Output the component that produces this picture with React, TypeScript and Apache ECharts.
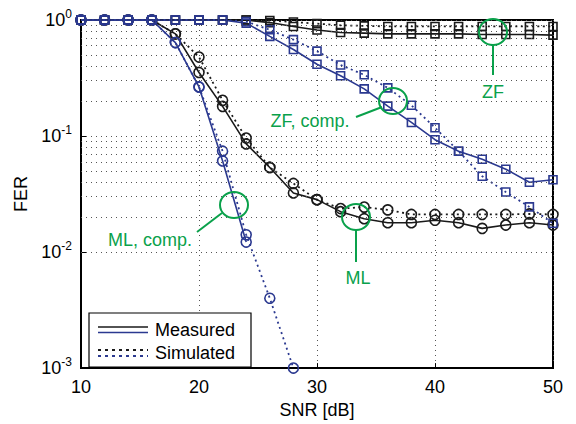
import React, { useEffect, useRef } from "react";
import * as echarts from "echarts";

const snr = [10, 12, 14, 16, 18, 20, 22, 24, 26, 28, 30, 32, 34, 36, 38, 40, 42, 44, 46, 48, 50];
const mlMeasured = [1, 1, 1, 1, 0.76, 0.353, 0.18, 0.0855, 0.0536, 0.0323, 0.0283, 0.0223, 0.0194, 0.0179, 0.0179, 0.0188, 0.0179, 0.016, 0.0171, 0.0179, 0.0171];
const mlSimulated = [1, 1, 1, 1, 0.76, 0.479, 0.203, 0.096, 0.0536, 0.039, 0.0283, 0.0237, 0.0244, 0.0231, 0.0211, 0.0211, 0.0211, 0.0211, 0.0211, 0.0213, 0.0211];
const zfMeasured = [1, 1, 1, 1, 1, 1, 1, 1, 0.95, 0.88, 0.82, 0.78, 0.77, 0.76, 0.76, 0.76, 0.76, 0.75, 0.75, 0.75, 0.74];
const zfSimulated = [1, 1, 1, 1, 1, 1, 1, 1, 0.99, 0.96, 0.93, 0.9, 0.89, 0.88, 0.88, 0.88, 0.88, 0.88, 0.88, 0.88, 0.88];
const zfCompMeasured = [1, 1, 1, 1, 1, 1, 1, 0.94, 0.722, 0.557, 0.416, 0.331, 0.255, 0.181, 0.131, 0.093, 0.074, 0.063, 0.0518, 0.04, 0.042];
const zfCompSimulated = [1, 1, 1, 1, 1, 1, 1, 0.97, 0.823, 0.677, 0.539, 0.41, 0.337, 0.26, 0.184, 0.118, 0.074, 0.045, 0.0329, 0.0245, 0.0177];
const mlCompMeasured = [1, 1, 1, 1, 0.639, 0.265, 0.061, 0.0122, null, null, null, null, null, null, null, null, null, null, null, null, null];
const mlCompSimulated = [1, 1, 1, 1, 0.639, 0.265, 0.074, 0.0141, 0.004, 0.001, null, null, null, null, null, null, null, null, null, null, null];
const minorGrid = [0.002, 0.003, 0.004, 0.005, 0.006, 0.007, 0.008, 0.009, 0.02, 0.03, 0.04, 0.05, 0.06, 0.07, 0.08, 0.09, 0.2, 0.3, 0.4, 0.5, 0.6, 0.7, 0.8, 0.9];

const F = "'Liberation Sans', Arial, Helvetica, sans-serif";
const BLACK = "#1a1a1a";
const BLUE = "#2b3990";
const GREEN = "#0aa14b";
const GRID = "#555";

function pair(vals: (number | null)[]) {
  return snr.map((x, i) => [x, vals[i]]);
}

function mk(name: string, vals: (number | null)[], color: string, symbol: string, size: number, dotted: boolean) {
  return {
    name,
    type: "line",
    data: pair(vals),
    symbol,
    symbolSize: size,
    showAllSymbol: true,
    lineStyle: { color, width: dotted ? 1.8 : 1.6, type: dotted ? [2, 3.5] : "solid" },
    itemStyle: { color: "rgba(0,0,0,0)", borderColor: color, borderWidth: 1.6 },
    emphasis: { disabled: true },
  };
}

export default function App() {
  const ref = useRef<HTMLDivElement>(null);
  useEffect(() => {
    const chart = echarts.init(ref.current!, undefined, { renderer: "svg" });
    const option: any = {
      animation: false,
      backgroundColor: "#fff",
      grid: { left: 81, right: 23, top: 20, bottom: 50, show: true, borderColor: "#000", borderWidth: 2 },
      xAxis: {
        type: "value",
        min: 10,
        max: 50,
        interval: 10,
        name: "SNR [dB]",
        nameLocation: "middle",
        nameGap: 31,
        nameTextStyle: { fontFamily: F, fontSize: 18, color: "#000" },
        axisLine: { lineStyle: { color: "#000", width: 2 } },
        axisTick: { inside: true, length: 5, lineStyle: { color: "#000" } },
        axisLabel: { fontFamily: F, fontSize: 18, color: "#000", margin: 10 },
        splitLine: { show: true, lineStyle: { type: [1, 4], color: GRID, width: 1 } },
      },
      yAxis: {
        type: "log",
        logBase: 10,
        min: 0.001,
        max: 1,
        name: "FER",
        nameLocation: "middle",
        nameGap: 50,
        nameTextStyle: { fontFamily: F, fontSize: 18, color: "#000" },
        axisLine: { lineStyle: { color: "#000", width: 2 } },
        axisTick: { inside: true, length: 5, lineStyle: { color: "#000" } },
        axisLabel: {
          margin: 9,
          formatter: (v: number) => {
            const e = Math.round(Math.log10(v));
            return `{b|10}{s|${e}}`;
          },
          rich: {
            b: { fontFamily: F, fontSize: 18, color: "#000" },
            s: { fontFamily: F, fontSize: 12, color: "#000", verticalAlign: "bottom", padding: [0, 0, 12, 0] },
          },
        },
        splitLine: { show: true, lineStyle: { type: [1, 4], color: GRID, width: 1 } },
      },
      series: [
        {
          type: "line",
          data: [],
          silent: true,
          markLine: {
            silent: true,
            symbol: ["none", "none"],
            label: { show: false },
            lineStyle: { type: [1, 4], color: GRID, width: 1 },
            data: minorGrid.map((v) => ({ yAxis: v })),
          },
        },
        mk("ML measured", mlMeasured, BLACK, "circle", 10, false),
        mk("ML simulated", mlSimulated, BLACK, "circle", 10, true),
        mk("ZF measured", zfMeasured, BLACK, "rect", 8, false),
        mk("ZF simulated", zfSimulated, BLACK, "rect", 8, true),
        mk("ZF comp measured", zfCompMeasured, BLUE, "rect", 8, false),
        mk("ZF comp simulated", zfCompSimulated, BLUE, "rect", 8, true),
        mk("ML comp measured", mlCompMeasured, BLUE, "circle", 10, false),
        mk("ML comp simulated", mlCompSimulated, BLUE, "circle", 10, true),
      ],
      graphic: [
        // annotations
        { type: "ellipse", z: 100, shape: { cx: 493, cy: 32, rx: 14, ry: 13 }, style: { fill: "none", stroke: GREEN, lineWidth: 2 } },
        { type: "line", z: 100, shape: { x1: 493, y1: 45, x2: 493, y2: 75 }, style: { stroke: GREEN, lineWidth: 2 } },
        { type: "text", z: 100, style: { text: "ZF", x: 493, y: 92, align: "center", verticalAlign: "middle", font: `18px ${F}`, fill: GREEN } },

        { type: "ellipse", z: 100, shape: { cx: 393, cy: 101, rx: 14, ry: 13 }, style: { fill: "none", stroke: GREEN, lineWidth: 2 } },
        { type: "line", z: 100, shape: { x1: 356, y1: 117, x2: 382, y2: 107 }, style: { stroke: GREEN, lineWidth: 2 } },
        { type: "text", z: 100, style: { text: "ZF, comp.", x: 310, y: 121, align: "center", verticalAlign: "middle", font: `18px ${F}`, fill: GREEN } },

        { type: "ellipse", z: 100, shape: { cx: 234, cy: 205, rx: 14, ry: 13 }, style: { fill: "none", stroke: GREEN, lineWidth: 2 } },
        { type: "line", z: 100, shape: { x1: 197, y1: 232, x2: 222, y2: 213 }, style: { stroke: GREEN, lineWidth: 2 } },
        { type: "text", z: 100, style: { text: "ML, comp.", x: 150, y: 240, align: "center", verticalAlign: "middle", font: `18px ${F}`, fill: GREEN } },

        { type: "ellipse", z: 100, shape: { cx: 356, cy: 217, rx: 14, ry: 13 }, style: { fill: "none", stroke: GREEN, lineWidth: 2 } },
        { type: "line", z: 100, shape: { x1: 356, y1: 230, x2: 356, y2: 262 }, style: { stroke: GREEN, lineWidth: 2 } },
        { type: "text", z: 100, style: { text: "ML", x: 358, y: 278, align: "center", verticalAlign: "middle", font: `18px ${F}`, fill: GREEN } },

        // legend
        { type: "rect", z: 100, shape: { x: 89, y: 313, width: 162, height: 54 }, style: { fill: "#fff", stroke: "#000", lineWidth: 1.2 } },
        { type: "line", z: 101, shape: { x1: 98, y1: 327, x2: 148, y2: 327 }, style: { stroke: BLACK, lineWidth: 1.6 } },
        { type: "line", z: 101, shape: { x1: 98, y1: 332.5, x2: 148, y2: 332.5 }, style: { stroke: BLUE, lineWidth: 1.6 } },
        { type: "text", z: 101, style: { text: "Measured", x: 155, y: 330, verticalAlign: "middle", font: `18px ${F}`, fill: "#000" } },
        { type: "line", z: 101, shape: { x1: 98, y1: 350, x2: 148, y2: 350 }, style: { stroke: BLACK, lineWidth: 1.8, lineDash: [3, 4] } },
        { type: "line", z: 101, shape: { x1: 98, y1: 356, x2: 148, y2: 356 }, style: { stroke: BLUE, lineWidth: 1.8, lineDash: [3, 4] } },
        { type: "text", z: 101, style: { text: "Simulated", x: 155, y: 353, verticalAlign: "middle", font: `18px ${F}`, fill: "#000" } },
      ],
    };
    chart.setOption(option);
    return () => chart.dispose();
  }, []);
  return <div ref={ref} style={{ position: "absolute", left: 0, top: 0, width: 576, height: 424 }} />;
}
